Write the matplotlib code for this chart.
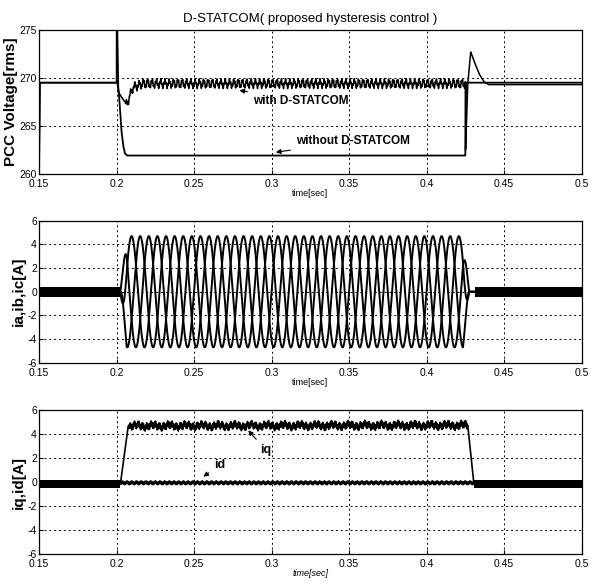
import numpy as np
import matplotlib
matplotlib.use("Agg")
import matplotlib.pyplot as plt

plt.rcParams['font.family'] = ['Liberation Sans', 'DejaVu Sans']

# ---- data ----
x_limits = (0.15, 0.5)
x_ticks = [0.15, 0.2, 0.25, 0.3, 0.35, 0.4, 0.45, 0.5]
x_tick_labels = ['0.15', '0.2', '0.25', '0.3', '0.35', '0.4', '0.45', '0.5']

# PCC voltage (rms) without D-STATCOM: breakpoints
v_without_t = [0.15, 0.1505, 0.2005, 0.2015, 0.2033, 0.2045, 0.2055, 0.207, 0.21, 0.425, 0.4255, 0.5]
v_without_v = [259.0, 269.5, 269.5, 268.5, 264.3, 262.8, 262.1, 261.9, 261.9, 261.9, 269.5, 269.5]

# PCC voltage with D-STATCOM: breakpoints of the mean level
v_with_t = [0.15, 0.1505, 0.2, 0.2001, 0.2012, 0.2033, 0.2065, 0.2106, 0.217, 0.425,
            0.4252, 0.4265, 0.4285, 0.431, 0.434, 0.437, 0.44, 0.5]
v_with_v = [259.0, 269.5, 269.5, 280.0, 268.5, 268.0, 267.2, 269.0, 269.4, 269.4,
            262.5, 269.2, 272.7, 271.6, 270.4, 269.6, 269.3, 269.3]
# ripple on the compensated voltage: (peak amplitude, frequency in Hz)
v_ripple = [(0.32, 360.0), (0.2, 1130.0)]
v_ripple_on = (0.206, 0.425)

# three phase compensating currents
i_freq = 60.0
i_amp = 4.7
i_on, i_off = 0.2025, 0.4275
i_ramp = 0.004
i_phase_deg = [0.0, -120.0, 120.0]
i_idle_band = (-0.45, 0.4)

# iq / id
iq_t = [0.15, 0.2025, 0.2075, 0.4266, 0.4305, 0.5]
iq_v = [-0.15, -0.15, 4.7, 4.75, -0.15, -0.15]
iq_ripple = [(0.2, 1400.0), (0.14, 370.0), (0.1, 95.0)]
iq_ripple_on = (0.208, 0.4262)
id_t = [0.15, 0.2, 0.43, 0.5]
id_v = [-0.15, -0.05, -0.05, -0.15]
id_ripple = [(0.1, 1300.0), (0.06, 330.0)]
idq_idle_band = (-0.5, 0.15)

title = 'D-STATCOM( proposed hysteresis control )'

# ---- figure ----
fig = plt.figure(figsize=(5.91, 5.87), dpi=100)
ax1 = fig.add_axes([0.066, 0.704, 0.918, 0.245])
ax2 = fig.add_axes([0.066, 0.382, 0.918, 0.242])
ax3 = fig.add_axes([0.066, 0.056, 0.918, 0.245])

tick_font = dict(size=7.5)


def style_axes(ax, ylim, yticks, ylabel, xlabel_style='normal'):
    ax.set_xlim(*x_limits)
    ax.set_ylim(*ylim)
    ax.set_xticks(x_ticks)
    ax.set_xticklabels(x_tick_labels, fontdict=tick_font)
    ax.set_yticks(yticks)
    ax.set_yticklabels([str(v) for v in yticks], fontdict=tick_font)
    ax.tick_params(direction='in', length=3, width=0.8, pad=1.5)
    ax.tick_params(axis='x', pad=3.5)
    ax.grid(True, color='black', linestyle=(0, (2, 3)), linewidth=0.7)
    for s in ax.spines.values():
        s.set_linewidth(0.9)
    ax.set_ylabel(ylabel, fontsize=11, fontweight='bold', labelpad=1)
    ax.set_xlabel('time[sec]', fontsize=6.5, style=xlabel_style, labelpad=0)


def add_ripple(t, y, parts, window):
    m = (t >= window[0]) & (t <= window[1])
    for amp, f in parts:
        y[m] += amp * np.sin(2 * np.pi * f * t[m])
    return y


t = np.linspace(x_limits[0], x_limits[1], 30000)
arrow = dict(arrowstyle='-|>', color='black', lw=0.8, mutation_scale=7)

# top: PCC voltage
v_with = add_ripple(t, np.interp(t, v_with_t, v_with_v), v_ripple, v_ripple_on)
ax1.plot(v_without_t, v_without_v, color='black', linewidth=1.3)
ax1.plot(t, v_with, color='black', linewidth=1.1)
style_axes(ax1, (260, 275), [260, 265, 270, 275], 'PCC Voltage[rms]')
ax1.set_title(title, fontsize=9.5, pad=6)

ax1.annotate('with D-STATCOM', xy=(0.2775, 268.75), xytext=(0.288, 267.6),
             fontsize=8.5, fontweight='bold', va='center', arrowprops=arrow)
ax1.annotate('without D-STATCOM', xy=(0.301, 262.2), xytext=(0.3157, 263.4),
             fontsize=8.5, fontweight='bold', va='center', arrowprops=arrow)

# middle: phase currents
env = np.clip((t - i_on) / i_ramp, 0, 1) * np.clip((i_off - t) / i_ramp, 0, 1)
for ph in i_phase_deg:
    ax2.plot(t, i_amp * env * np.sin(2 * np.pi * i_freq * t + np.deg2rad(ph)),
             color='black', linewidth=1.4)
ax2.fill_between([x_limits[0], i_on], i_idle_band[0], i_idle_band[1], color='black', lw=0)
ax2.fill_between([i_off + 0.004, x_limits[1]], i_idle_band[0], i_idle_band[1], color='black', lw=0)
style_axes(ax2, (-6, 6), [-6, -4, -2, 0, 2, 4, 6], 'ia,ib,ic[A]')

# bottom: iq, id
iq = add_ripple(t, np.interp(t, iq_t, iq_v), iq_ripple, iq_ripple_on)
id_ = add_ripple(t, np.interp(t, id_t, id_v), id_ripple, (0.2025, 0.4305))
ax3.plot(t, iq, color='black', linewidth=1.2)
ax3.plot(t, id_, color='black', linewidth=1.2)
ax3.fill_between([x_limits[0], 0.2025], idq_idle_band[0], idq_idle_band[1], color='black', lw=0)
ax3.fill_between([0.4305, x_limits[1]], idq_idle_band[0], idq_idle_band[1], color='black', lw=0)
style_axes(ax3, (-6, 6), [-6, -4, -2, 0, 2, 4, 6], 'iq,id[A]', xlabel_style='italic')

ax3.annotate('iq', xy=(0.2838, 4.5), xytext=(0.2928, 2.67),
             fontsize=9, fontweight='bold', va='center', arrowprops=arrow)
ax3.annotate('id', xy=(0.2545, 0.33), xytext=(0.2628, 1.4),
             fontsize=9, fontweight='bold', va='center', arrowprops=arrow)

fig.savefig('out.png', dpi=100)
